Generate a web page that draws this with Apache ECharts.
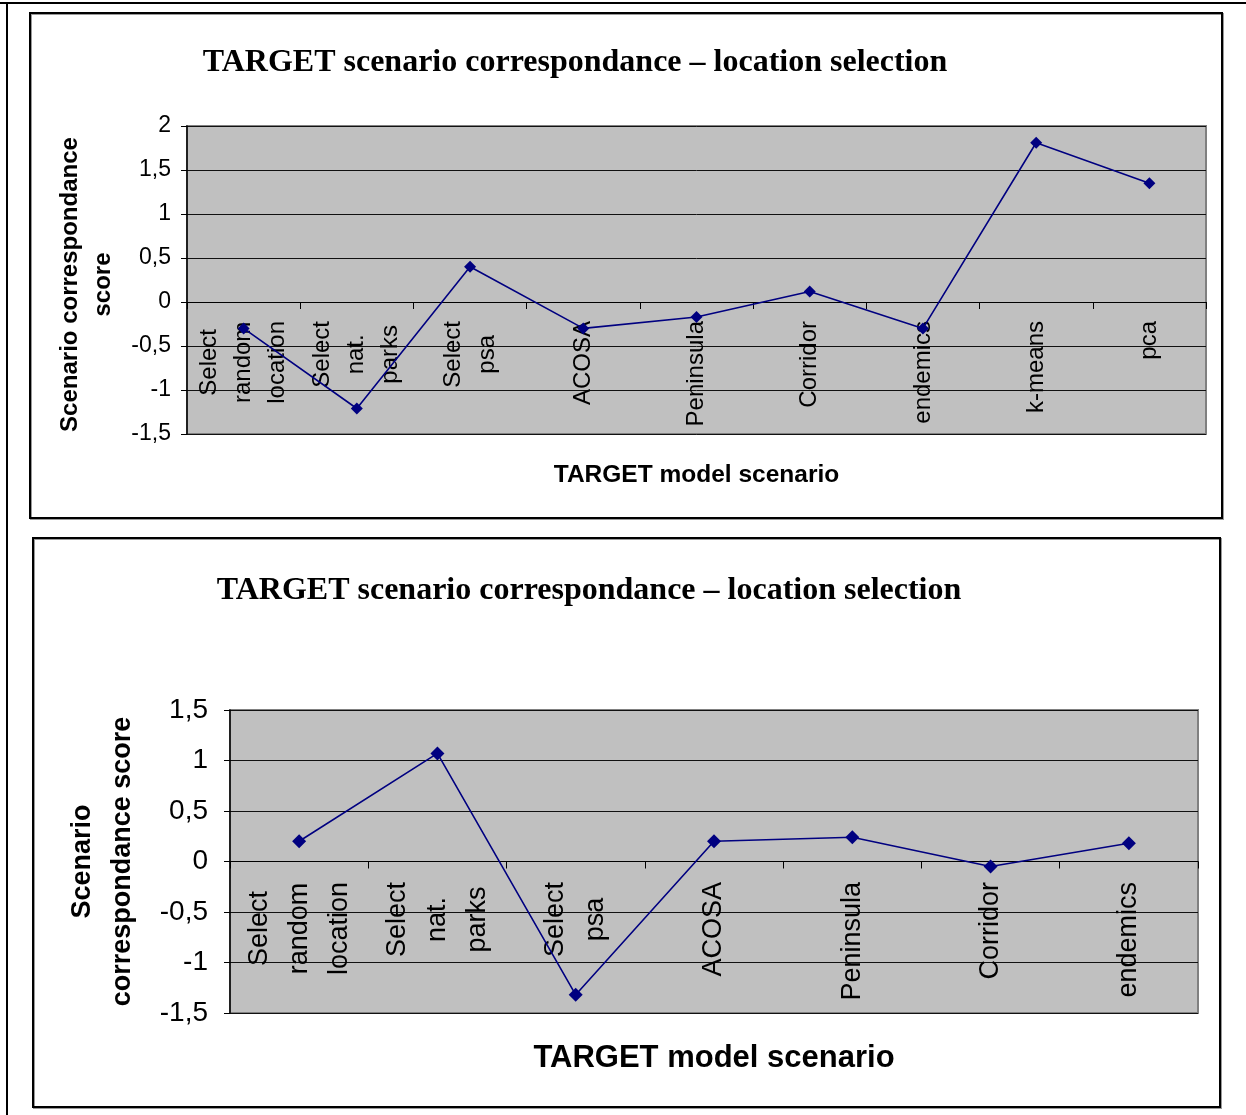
<!DOCTYPE html>
<html><head><meta charset="utf-8">
<script src="https://cdn.jsdelivr.net/npm/echarts@6/dist/echarts.min.js"></script>
<style>html,body{margin:0;padding:0;background:#fff}#c{width:1246px;height:1115px}</style>
</head><body><div id="c"></div>
<script>
// ---- data ----
const chartTitle = 'TARGET scenario correspondance \u2013 location selection';
const xAxisTitle = 'TARGET model scenario';
const yAxisTitle1 = 'Scenario correspondance\nscore';
const yAxisTitle2 = 'Scenario\ncorrespondance score';
const categories1 = ['Select random location', 'Select nat. parks', 'Select psa', 'ACOSA', 'Peninsula', 'Corridor', 'endemics', 'k-means', 'pca'];
const scores1 = [-0.3, -1.21, 0.4, -0.3, -0.17, 0.12, -0.3, 1.81, 1.35];
const categories2 = ['Select random location', 'Select nat. parks', 'Select psa', 'ACOSA', 'Peninsula', 'Corridor', 'endemics'];
const scores2 = [0.2, 1.07, -1.32, 0.2, 0.24, -0.05, 0.18];
const yRange1 = [-1.5, 2];
const yRange2 = [-1.5, 1.5];
const yStep = 0.5;

// ---- helpers ----
const SANS = 'Liberation Sans, Arial, sans-serif';
const SERIF = 'Liberation Serif, Times New Roman, serif';
const commaFmt = v => String(v).replace('.', ',');
const catFmt = name => name.split(' ').map(w => '{c|' + w + '}').join('\n');

function xAxisCfg(gridIndex, cats, fs, lh, margin, nameFs, nameGap) {
  return {
    type: 'category', gridIndex, data: cats, boundaryGap: true,
    axisLine: { onZero: true, lineStyle: { color: '#000', width: 1 } },
    axisTick: { show: true, interval: 0, length: 7, inside: false, lineStyle: { color: '#000' } },
    axisLabel: {
      interval: 0, rotate: 90, margin, formatter: catFmt, color: '#000',
      rich: { c: { align: 'center', fontSize: fs, lineHeight: lh, fontFamily: SANS, color: '#000' } }
    },
    splitLine: { show: false },
    name: xAxisTitle, nameLocation: 'middle', nameGap,
    nameTextStyle: { fontFamily: SANS, fontWeight: 'bold', fontSize: nameFs, color: '#000' }
  };
}
function yAxisCfg(gridIndex, range, fs, margin, name, nameFs, nameLh, nameGap, namePad) {
  return {
    type: 'value', gridIndex, min: range[0], max: range[1], interval: yStep,
    axisLine: { show: true, lineStyle: { color: '#000', width: 1.5 } },
    axisTick: { show: true, length: 6, lineStyle: { color: '#000' } },
    axisLabel: { formatter: commaFmt, fontSize: fs, fontFamily: SANS, color: '#000', margin },
    splitLine: { show: true, lineStyle: { color: '#111', width: 1 } },
    name, nameLocation: 'middle', nameRotate: 90, nameGap,
    nameTextStyle: { fontFamily: SANS, fontWeight: 'bold', fontSize: nameFs, lineHeight: nameLh, color: '#000', align: 'center', padding: namePad }
  };
}
function seriesCfg(idx, data, size) {
  return {
    type: 'line', xAxisIndex: idx, yAxisIndex: idx, data,
    symbol: 'diamond', symbolSize: size,
    lineStyle: { color: '#000080', width: 1.6 },
    itemStyle: { color: '#000080' }, z: 5, animation: false
  };
}

const chart = echarts.init(document.getElementById('c'), null, { renderer: 'canvas' });
chart.setOption({
  animation: false,
  backgroundColor: '#fff',
  title: [
    { text: chartTitle, left: 575, top: 47, textAlign: 'center', padding: 0,
      textStyle: { fontFamily: SERIF, fontWeight: 'bold', fontSize: 32, color: '#000' } },
    { text: chartTitle, left: 589, top: 575, textAlign: 'center', padding: 0,
      textStyle: { fontFamily: SERIF, fontWeight: 'bold', fontSize: 32, color: '#000' } }
  ],
  grid: [
    { left: 187, top: 126, width: 1019, height: 308, show: true, backgroundColor: '#C0C0C0', borderColor: '#808080', borderWidth: 2, containLabel: false, outerBoundsMode: 'none' },
    { left: 230, top: 710, width: 968, height: 303, show: true, backgroundColor: '#C0C0C0', borderColor: '#808080', borderWidth: 2, containLabel: false, outerBoundsMode: 'none' }
  ],
  xAxis: [
    xAxisCfg(0, categories1, 24, 34, -113, 24.5, 29),
    xAxisCfg(1, categories2, 27, 40, -131, 31, 30)
  ],
  yAxis: [
    yAxisCfg(0, yRange1, 23, 16, yAxisTitle1, 24, 33, 67, [0, 9, 0, 0]),
    yAxisCfg(1, yRange2, 28, 22, yAxisTitle2, 27, 40, 87, 0)
  ],
  series: [seriesCfg(0, scores1, 12), seriesCfg(1, scores2, 14)],
  graphic: [
    { type: 'line', shape: { x1: 0, y1: 3, x2: 1246, y2: 3 }, style: { stroke: '#000', lineWidth: 2 }, silent: true },
    { type: 'line', shape: { x1: 7, y1: 3, x2: 7, y2: 1115 }, style: { stroke: '#000', lineWidth: 2 }, silent: true },
    { type: 'rect', shape: { x: 30, y: 13, width: 1192, height: 505 }, style: { fill: null, stroke: '#000', lineWidth: 2, shadowColor: '#999', shadowOffsetX: 1, shadowOffsetY: 1 }, silent: true },
    { type: 'rect', shape: { x: 33, y: 538, width: 1187, height: 569 }, style: { fill: null, stroke: '#000', lineWidth: 2, shadowColor: '#999', shadowOffsetX: 1, shadowOffsetY: 1 }, silent: true }
  ]
});
</script></body></html>
